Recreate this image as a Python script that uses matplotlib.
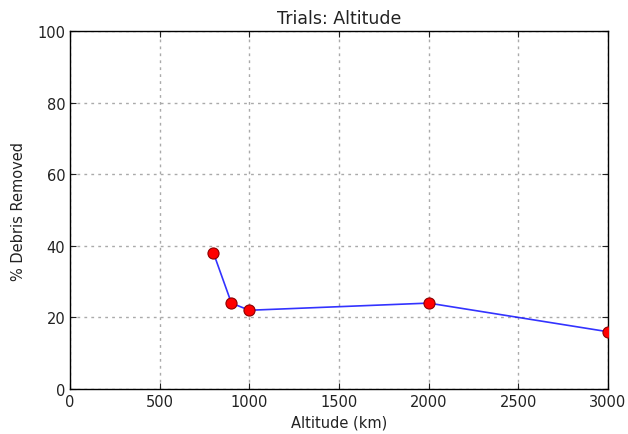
import matplotlib
matplotlib.use("Agg")
import matplotlib.pyplot as plt

# altitude trials
altitude = [800, 900, 1000, 2000, 3000]
removed = [38, 24, 22, 24, 16]

fig = plt.figure(figsize=(6.28, 4.35), dpi=100)
ax = fig.add_axes([0.1115, 0.1034, 0.8566, 0.8230])

ax.plot(altitude, removed, color="blue", linewidth=1.2, alpha=0.8, zorder=2)
ax.plot(altitude, removed, "o", color="red", markersize=8,
        markeredgecolor="#8b0000", markeredgewidth=0.8, zorder=3)

ax.set_xlim(0, 3000)
ax.set_ylim(0, 100)
ax.set_xticks(range(0, 3001, 500))
ax.set_yticks(range(0, 101, 20))
ax.grid(True, color="#aaaaaa", linestyle=(0, (2, 3)), linewidth=1)
ax.tick_params(direction="in", length=4, top=True, right=True, labelsize=10.5, colors="#222222")
for s in ax.spines.values():
    s.set_linewidth(1)

ax.set_title("Trials: Altitude", fontsize=12.5, color="#222222")
ax.set_xlabel("Altitude (km)", fontsize=10.5, color="#222222")
ax.set_ylabel("% Debris Removed", fontsize=10.5, color="#222222", labelpad=8)

fig.savefig("out.png", dpi=100)
